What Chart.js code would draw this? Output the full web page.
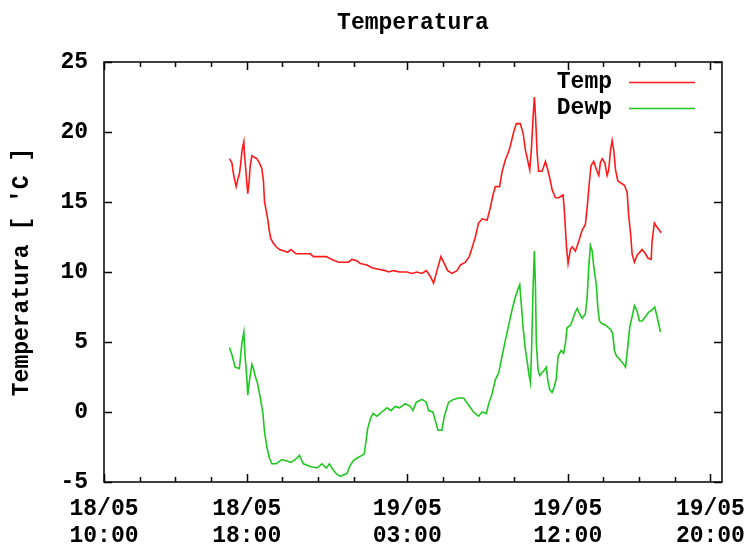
<!DOCTYPE html>
<html lang="pt">
<head>
  <meta charset="UTF-8" />
  <title>Temperatura</title>
  <script src="https://cdn.jsdelivr.net/npm/chart.js"></script>
  <style>
    html, body { margin: 0; padding: 0; background: #fff; }
    #wrap { width: 749px; height: 548px; }
  </style>
</head>
<body>
  <div id="wrap"><canvas id="grafico" width="749" height="548"></canvas></div>

  <script>
    // horas contadas desde 18/05 00:00
    const tempHoras = [17.03, 17.17, 17.26, 17.41, 17.50, 17.59, 17.67, 17.74, 17.84, 17.87, 17.95, 18.06, 18.14, 18.19, 18.29, 18.42, 18.57, 18.71, 18.85, 18.94,
      19.00, 19.09, 19.19, 19.26, 19.35, 19.47, 19.65, 19.84, 20.10, 20.29, 20.48, 20.77, 21.56, 21.75, 22.46, 22.78, 23.15, 23.71, 23.90, 24.18,
      24.37, 24.74, 25.02, 25.39, 25.77, 25.95, 26.23, 26.57, 26.99, 27.27, 27.55, 27.83, 28.07, 28.29, 28.48, 28.67, 28.89, 29.04, 29.27, 29.51,
      29.79, 29.98, 30.26, 30.48, 30.63, 30.82, 31.00, 31.20, 31.48, 31.66, 31.81, 31.94, 32.18, 32.31, 32.50, 32.69, 32.82, 32.97, 33.12, 33.34,
      33.50, 33.63, 33.75, 33.87, 33.96, 34.06, 34.13, 34.20, 34.28, 34.37, 34.56, 34.75, 34.88, 35.03, 35.12, 35.31, 35.49, 35.74, 35.81, 35.93,
      36.02, 36.15, 36.25, 36.43, 36.62, 36.81, 36.99, 37.09, 37.22, 37.31, 37.46, 37.61, 37.74, 37.83, 37.93, 38.08, 38.21, 38.30, 38.40, 38.49,
      38.58, 38.68, 38.81, 39.05, 39.18, 39.33, 39.42, 39.52, 39.61, 39.74, 39.89, 40.17, 40.36, 40.49, 40.68, 40.73, 40.86, 41.01, 41.24];
    const tempValores = [18.1, 17.8, 17.0, 16.1, 16.6, 17.0, 17.8, 18.7, 19.3, 18.5, 17.3, 15.6, 16.5, 17.5, 18.3, 18.2, 18.1, 17.8, 17.4, 16.5,
      15.0, 14.4, 13.7, 13.0, 12.4, 12.1, 11.8, 11.6, 11.5, 11.4, 11.6, 11.3, 11.3, 11.1, 11.1, 10.9, 10.7, 10.7, 10.9, 10.8,
      10.6, 10.5, 10.3, 10.2, 10.1, 10.0, 10.1, 10.0, 10.0, 9.9, 10.0, 9.9, 10.1, 9.7, 9.2, 10.1, 11.1, 10.7, 10.1, 9.9,
      10.1, 10.5, 10.7, 11.1, 11.7, 12.5, 13.5, 13.8, 13.7, 14.6, 15.5, 16.1, 16.1, 17.1, 18.0, 18.6, 19.2, 20.0, 20.6, 20.6,
      19.9, 18.7, 18.0, 17.3, 18.7, 21.1, 22.5, 21.0, 18.6, 17.2, 17.2, 17.9, 17.3, 16.5, 15.9, 15.3, 15.3, 15.5, 14.4, 11.8,
      10.6, 11.6, 11.8, 11.5, 12.2, 13.0, 13.4, 14.6, 16.5, 17.6, 17.9, 17.3, 16.9, 17.8, 18.1, 17.8, 16.9, 17.3, 18.7, 19.4,
      18.7, 17.3, 16.5, 16.3, 16.2, 15.7, 14.0, 12.8, 11.3, 10.7, 11.2, 11.6, 11.3, 11.0, 10.9, 12.2, 13.5, 13.2, 12.8];

    const dewHoras = [17.03, 17.17, 17.35, 17.59, 17.73, 17.84, 17.91, 18.01, 18.06, 18.15, 18.29, 18.38, 18.47, 18.60, 18.75, 18.91, 19.00, 19.13, 19.28, 19.41,
      19.65, 19.97, 20.25, 20.48, 20.72, 20.96, 21.18, 21.56, 21.94, 22.22, 22.46, 22.64, 22.83, 23.02, 23.24, 23.62, 23.77, 23.96, 24.18, 24.46,
      24.59, 24.70, 24.78, 24.93, 25.08, 25.30, 25.58, 25.86, 26.09, 26.33, 26.57, 26.89, 27.17, 27.32, 27.51, 27.83, 28.07, 28.20, 28.44, 28.57,
      28.73, 28.95, 29.08, 29.32, 29.60, 29.88, 30.16, 30.44, 30.72, 31.00, 31.20, 31.44, 31.57, 31.76, 31.94, 32.13, 32.32, 32.50, 32.69, 32.88,
      33.06, 33.19, 33.31, 33.38, 33.50, 33.63, 33.72, 33.81, 33.91, 33.98, 34.06, 34.13, 34.19, 34.24, 34.34, 34.43, 34.56, 34.69, 34.80, 34.88,
      34.99, 35.12, 35.25, 35.36, 35.46, 35.63, 35.77, 35.87, 35.96, 36.15, 36.25, 36.38, 36.53, 36.67, 36.81, 36.99, 37.09, 37.18, 37.27, 37.37,
      37.46, 37.61, 37.69, 37.78, 37.93, 38.12, 38.40, 38.52, 38.62, 38.73, 38.96, 39.14, 39.24, 39.33, 39.48, 39.61, 39.74, 39.89, 40.02, 40.17,
      40.36, 40.52, 40.73, 40.88, 41.01, 41.10, 41.20];
    const dewValores = [4.6, 4.1, 3.2, 3.1, 4.9, 5.7, 4.0, 2.4, 1.2, 2.2, 3.4, 3.1, 2.6, 2.1, 1.1, -0.1, -1.4, -2.5, -3.3, -3.7,
      -3.7, -3.4, -3.5, -3.6, -3.4, -3.1, -3.7, -3.9, -4.0, -3.7, -4.0, -3.7, -4.1, -4.4, -4.6, -4.4, -3.9, -3.5, -3.3, -3.1,
      -3.0, -2.0, -1.2, -0.5, -0.1, -0.3, 0.0, 0.3, 0.1, 0.4, 0.3, 0.6, 0.4, 0.1, 0.7, 0.9, 0.7, 0.1, 0.0, -0.6,
      -1.3, -1.3, -0.3, 0.7, 0.9, 1.0, 1.0, 0.5, 0.0, -0.3, 0.0, -0.1, 0.6, 1.3, 2.3, 2.8, 4.0, 5.1, 6.2, 7.3,
      8.2, 8.7, 9.1, 8.0, 6.0, 4.4, 3.7, 2.8, 2.1, 4.7, 9.0, 11.5, 9.0, 4.9, 3.0, 2.6, 2.8, 3.0, 3.2, 2.3,
      1.6, 1.4, 1.8, 2.4, 4.0, 4.4, 4.2, 4.9, 6.0, 6.2, 6.5, 7.0, 7.4, 7.0, 6.7, 7.0, 8.2, 10.4, 11.9, 11.5,
      10.4, 9.0, 7.4, 6.5, 6.3, 6.2, 5.9, 5.6, 4.4, 4.0, 3.7, 3.4, 3.2, 4.2, 6.1, 6.8, 7.6, 7.2, 6.5, 6.5,
      6.8, 7.1, 7.3, 7.5, 6.8, 6.3, 5.7];

    // eixo x: marcas principais com rótulo e marcas secundárias
    const xMarcas = [10, 18, 27, 36, 44];
    const xRotulos = [['18/05', '10:00'], ['18/05', '18:00'], ['19/05', '03:00'], ['19/05', '12:00'], ['19/05', '20:00']];
    const xMarcasMenores = [12, 14, 16, 20, 22, 24, 29, 31, 33, 38, 40, 42];
    const yMarcas = [-5, 0, 5, 10, 15, 20, 25];

    const titulo = 'Temperatura';
    const tituloY = "Temperatura [ 'C ]";
    const familia = '"Liberation Mono", "DejaVu Sans Mono", monospace';
    const fonte = 'bold 23px ' + familia;

    // moldura, marcas para dentro (como no gnuplot), título e legenda
    const molduraGnuplot = {
      id: 'molduraGnuplot',
      afterDraw(chart) {
        const { ctx, chartArea: a, scales: { x, y } } = chart;
        ctx.save();
        ctx.strokeStyle = '#000';
        ctx.lineWidth = 1.5;
        ctx.strokeRect(a.left, a.top, a.right - a.left, a.bottom - a.top);

        ctx.beginPath();
        const marcaX = (v, len) => {
          const px = Math.round(x.getPixelForValue(v)) + 0.5;
          ctx.moveTo(px, a.bottom); ctx.lineTo(px, a.bottom - len);
          ctx.moveTo(px, a.top); ctx.lineTo(px, a.top + len);
        };
        xMarcas.forEach(v => marcaX(v, 8));
        xMarcasMenores.forEach(v => marcaX(v, 5));
        yMarcas.forEach(v => {
          const py = Math.round(y.getPixelForValue(v)) + 0.5;
          ctx.moveTo(a.left, py); ctx.lineTo(a.left + 8, py);
          ctx.moveTo(a.right, py); ctx.lineTo(a.right - 8, py);
        });
        ctx.stroke();

        ctx.fillStyle = '#000';
        ctx.font = fonte;
        ctx.textAlign = 'center';
        ctx.textBaseline = 'middle';
        ctx.fillText(titulo, (a.left + a.right) / 2, 23);

        // legenda: texto à direita, amostra da linha depois
        ctx.textAlign = 'right';
        chart.data.datasets.forEach((ds, i) => {
          const ly = 82 + i * 26;
          ctx.fillStyle = '#000';
          ctx.fillText(ds.label, 612, ly);
          ctx.strokeStyle = ds.borderColor;
          ctx.lineWidth = 1.5;
          ctx.beginPath();
          ctx.moveTo(629, ly + 0.5);
          ctx.lineTo(695, ly + 0.5);
          ctx.stroke();
        });
        ctx.restore();
      }
    };

    const pontos = (hs, vs) => hs.map((h, i) => ({ x: h, y: vs[i] }));

    new Chart(document.getElementById('grafico'), {
      type: 'line',
      data: {
        datasets: [
          { label: 'Temp', data: pontos(tempHoras, tempValores), borderColor: '#ff1a1a', borderWidth: 1.6, pointRadius: 0, tension: 0 },
          { label: 'Dewp', data: pontos(dewHoras, dewValores), borderColor: '#1ec81e', borderWidth: 1.6, pointRadius: 0, tension: 0 }
        ]
      },
      options: {
        responsive: false,
        animation: false,
        layout: { padding: { left: 0, right: 27, top: 62, bottom: 0 } },
        plugins: {
          legend: { display: false },
          title: { display: false },
          tooltip: { enabled: false }
        },
        scales: {
          x: {
            type: 'linear',
            min: 10,
            max: 44.65,
            grid: { display: false, drawTicks: false },
            border: { display: false },
            afterBuildTicks: s => { s.ticks = xMarcas.map(v => ({ value: v })); },
            afterFit: s => { s.height = 66; s.paddingLeft = 0; s.paddingRight = 0; },
            ticks: {
              autoSkip: false,
              maxRotation: 0,
              padding: 14,
              color: '#000',
              font: { family: familia, size: 23, weight: 'bold', lineHeight: 1.17 },
              callback: (v, i) => xRotulos[i]
            }
          },
          y: {
            min: -5,
            max: 25,
            grid: { display: false, drawTicks: false },
            border: { display: false },
            afterBuildTicks: s => { s.ticks = yMarcas.map(v => ({ value: v })); },
            afterFit: s => { s.width = 104; },
            ticks: {
              padding: 16,
              color: '#000',
              font: { family: familia, size: 23, weight: 'bold' }
            },
            title: {
              display: true,
              text: tituloY,
              color: '#000',
              padding: { top: 8, bottom: 0 },
              font: { family: familia, size: 23, weight: 'bold', lineHeight: 1.2 }
            }
          }
        }
      },
      plugins: [molduraGnuplot]
    });
  </script>
</body>
</html>
